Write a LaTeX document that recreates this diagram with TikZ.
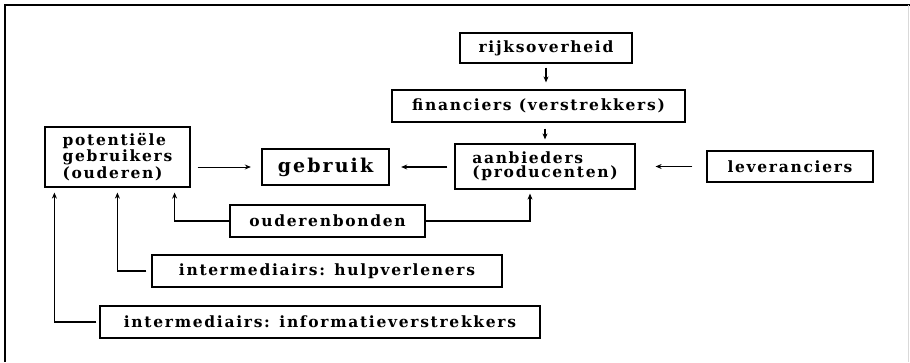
\documentclass[tikz,border=0pt]{standalone}
\usepackage{fontspec}
\newfontfamily\boxfont[LetterSpace=11]{DejaVu Serif}
\usetikzlibrary{arrows.meta}

\tikzset{
  box/.style={draw=drawColor,line width=1.2pt,inner sep=0pt,align=left,
    font=\boxfont\bfseries\fontsize{15.5}{14}\selectfont},
  mainbox/.style={box,line width=2.4pt,font=\boxfont\bfseries\fontsize{19}{20}\selectfont},
  flow/.style={draw=drawColor,line width=1.4pt,-{Stealth[length=6pt,width=5pt]}},
}

\begin{document}
\begin{tikzpicture}[x=1pt,y=1pt]
\definecolor{fillColor}{RGB}{255,255,255}
\definecolor{drawColor}{RGB}{0,0,0}
\definecolor{edgeColor}{gray}{0.85}
\path[use as bounding box,fill=fillColor] (0,0) rectangle (910.00,362.00);

% frame
\path[draw=drawColor,line width= 1.6pt] (  5.00,  0.00) -- (  5.00,357.00) -- (910.00,357.00);
\path[draw=edgeColor,line width= 0.6pt] (908.50,357.00) -- (908.50,  0.00);

% boxes
\node[box,minimum width=172pt,minimum height=30pt] (rijks) at (546.00,314.00) {rijksoverheid};
\node[box,minimum width=293pt,minimum height=32pt] (fin) at (538.50,256.00) {financiers (verstrekkers)};
\node[box,minimum width=180pt,minimum height=45pt] (aanb) at (545.00,195.50) {aanbieders\\(producenten)};
\node[box,minimum width=166pt,minimum height=31pt] (lever) at (790.00,195.50) {leveranciers};
\node[mainbox,minimum width=127pt,minimum height=36pt] (gebruik) at (325.50,195.00) {gebruik};
\node[box,minimum width=145pt,minimum height=60pt] (pot) at (117.50,205.00) {potentiële\\gebruikers\\(ouderen)};
\node[box,minimum width=195pt,minimum height=32pt] (ouder) at (327.50,141.00) {ouderenbonden};
\node[box,minimum width=350pt,minimum height=32pt] (hulp) at (327.00, 91.00) {intermediairs: hulpverleners};
\node[box,minimum width=440pt,minimum height=32pt] (info) at (320.00, 40.00) {intermediairs: informatieverstrekkers};

% arrows
\path[flow,shorten <=4pt,shorten >=7pt] (rijks.south) -- (rijks.south |- fin.north);
\path[flow,shorten <=6pt,shorten >=4pt] (aanb.north |- fin.south) -- (aanb.north);
\path[flow,shorten <=14pt,shorten >=20pt] (lever.west) -- (aanb.east);
\path[flow,shorten <=7pt,shorten >=11pt] (aanb.west |- gebruik.east) -- (gebruik.east);
\path[flow,line width=0.9pt,shorten <=7pt,shorten >=10pt] (pot.east |- gebruik.west) -- (gebruik.west);
\path[flow,shorten >=5pt] (ouder.west) -| ([xshift=-16pt]pot.south east);
\path[flow,shorten >=4pt] (ouder.east) -| ([xshift=-15pt]aanb.south);
\path[flow,shorten <=5pt,shorten >=5pt] (hulp.west) -| ([xshift=73pt]pot.south west);
\path[flow,shorten <=3pt,shorten >=5pt] (info.west) -| ([xshift=10pt]pot.south west);
\end{tikzpicture}
\end{document}
